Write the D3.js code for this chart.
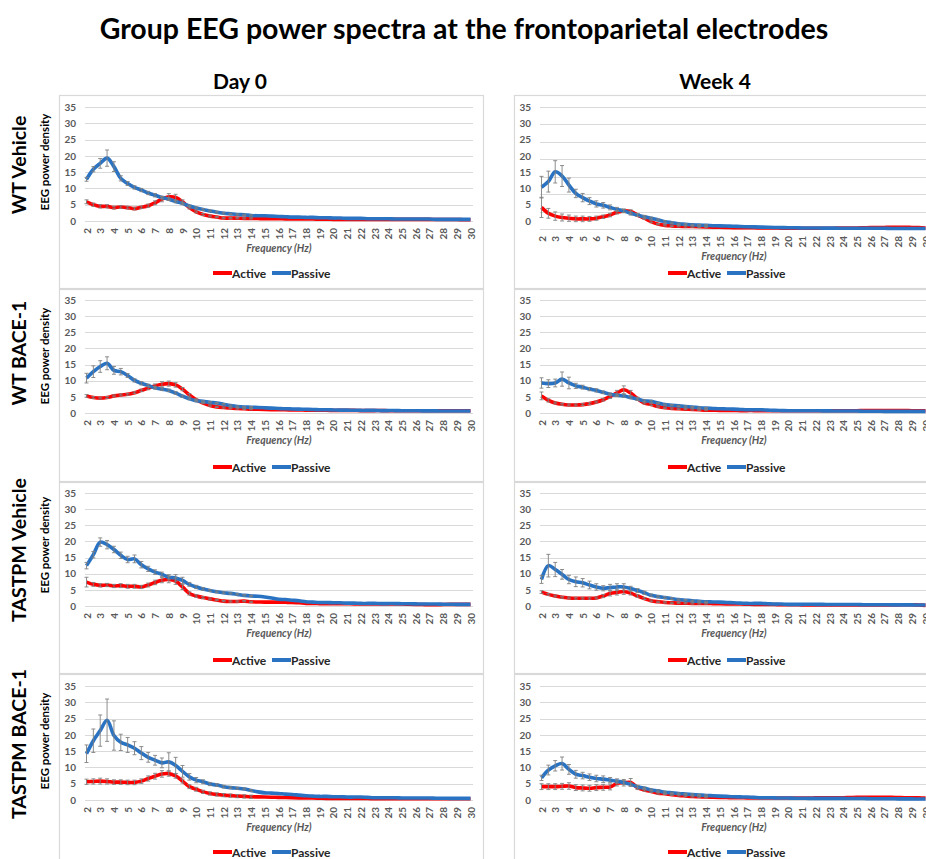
<!DOCTYPE html>
<html><head><meta charset="utf-8">
<script src="https://cdn.jsdelivr.net/npm/d3@7"></script>
<style>body{margin:0;background:#fff}svg{display:block}text{font-family:Lato,"Open Sans",sans-serif}</style>
</head><body><svg id="c" width="926" height="859"></svg>
<script>
// ---------- data ----------
const freqs = [2,2.5,3,3.5,4,4.5,5,5.5,6,6.5,7,7.5,8,8.5,9,9.5,10,10.5,11,11.5,12,12.5,13,13.5,14,14.5,15,15.5,16,16.5,17,17.5,18,18.5,19,19.5,20,20.5,21,21.5,22,22.5,23,23.5,24,24.5,25,25.5,26,26.5,27,27.5,28,28.5,29,29.5,30];
const xTickLabels = [2,3,4,5,6,7,8,9,10,11,12,13,14,15,16,17,18,19,20,21,22,23,24,25,26,27,28,29,30];
const yTickLabels = [0,5,10,15,20,25,30,35];
const title = "Group EEG power spectra at the frontoparietal electrodes";
const columnLabels = ["Day 0","Week 4"];
const rowLabels = ["WT Vehicle","WT BACE-1","TASTPM Vehicle","TASTPM BACE-1"];
const seriesNames = ["Active","Passive"];

// Day 0, WT Vehicle
const d0WTVehActive = [5.9,5.0,4.5,4.5,4.1,4.3,4.1,3.8,4.2,4.7,5.6,6.7,7.4,7.2,5.9,4.1,2.8,2.0,1.5,1.2,0.9,0.9,0.85,0.8,0.8,
  0.75,0.7,0.7,0.7,0.65,0.65,0.6,0.6,0.6,0.55,0.55,0.5,0.5,0.5,0.5,0.5,0.5,0.5,0.5,0.5,0.5,0.5,0.5,0.5,0.5,0.5,0.45,0.45,0.45,0.45,0.4,0.4];
const d0WTVehPassive = [12.8,15.9,17.7,19.3,16.7,13.1,11.5,10.3,9.5,8.6,7.9,7.2,6.7,6.0,5.4,4.6,4.0,3.5,3.1,2.7,2.4,2.2,2.0,1.9,1.7,
  1.6,1.6,1.5,1.4,1.3,1.2,1.2,1.1,1.1,1.0,1.0,0.9,0.9,0.8,0.8,0.8,0.7,0.7,0.7,0.7,0.6,0.6,0.6,0.6,0.6,0.6,0.5,0.5,0.5,0.5,0.5,0.5];
const d0WTVehActiveErr = [0.6,0.5,0.5,0.5,0.4,0.4,0.4,0.4,0.4,0.5,0.6,0.8,1.0,1.0,0.6,0.4,0.3,0.3,0.3,0.2,0.2,0.2,0.2,0.2,0.2];
const d0WTVehPassiveErr = [0.6,0.8,1.5,2.5,1.5,0.8,0.6,0.5,0.5,0.5,0.5,0.4,0.4,0.4,0.4,0.3,0.3,0.3,0.3,0.3,0.3,0.2,0.2,0.2,0.2];

// Week 4, WT Vehicle
const w4WTVehActive = [6.2,4.5,3.7,3.3,3.1,2.9,2.9,2.9,3.1,3.5,4.0,4.8,5.2,5.0,4.0,3.1,2.1,1.4,1.05,0.9,0.8,0.75,0.7,0.65,0.6,
  0.55,0.5,0.45,0.4,0.4,0.35,0.35,0.3,0.3,0.3,0.25,0.25,0.25,0.2,0.2,0.2,0.2,0.2,0.25,0.25,0.3,0.3,0.35,0.4,0.4,0.45,0.5,0.5,0.5,0.45,0.4,0.3];
const w4WTVehPassive = [12.0,13.6,16.4,15.2,12.6,10.2,9.0,8.0,7.2,6.8,6.2,5.6,5.2,4.5,4.0,3.5,3.1,2.6,2.1,1.8,1.5,1.35,1.2,1.1,1.05,
  0.95,0.9,0.85,0.8,0.7,0.65,0.6,0.55,0.5,0.45,0.4,0.35,0.35,0.3,0.3,0.3,0.25,0.25,0.25,0.2,0.2,0.2,0.2,0.2,0.2,0.2,0.15,0.15,0.15,0.15,0.15,0.15];
const w4WTVehActiveErr = [2.9,1.4,1.2,1.0,0.9,0.8,0.8,0.7,0.6,0.5,0.5,0.5,0.5,0.5,0.4,0.3,0.3,0.2,0.2,0.2,0.2,0.2,0.2,0.2,0.2];
const w4WTVehPassiveErr = [3.1,3.0,3.2,3.0,2.0,1.2,1.2,1.0,0.9,0.8,0.7,0.6,0.5,0.5,0.4,0.4,0.3,0.3,0.3,0.2,0.2,0.2,0.2,0.2,0.2];

// Day 0, WT BACE-1
const d0WTBaceActive = [5.3,4.8,4.6,4.8,5.3,5.6,5.8,6.3,7.0,7.7,8.4,8.9,9.1,8.7,7.4,5.6,4.1,3.1,2.3,1.9,1.7,1.55,1.4,1.3,1.2,
  1.15,1.1,1.05,1.0,1.0,0.95,0.95,0.9,0.9,0.85,0.85,0.8,0.8,0.8,0.8,0.75,0.75,0.75,0.75,0.7,0.7,0.7,0.7,0.7,0.7,0.7,0.7,0.7,0.7,0.7,0.7,0.7];
const d0WTBacePassive = [10.8,12.8,14.4,15.4,13.2,12.8,11.6,10.1,9.2,8.5,7.8,7.4,7.0,6.2,5.2,4.4,3.8,3.6,3.3,3.1,2.7,2.3,2.0,1.85,1.8,
  1.7,1.6,1.5,1.4,1.3,1.25,1.2,1.15,1.1,1.0,1.0,0.95,0.9,0.9,0.85,0.8,0.8,0.8,0.75,0.75,0.75,0.7,0.7,0.7,0.65,0.65,0.65,0.6,0.6,0.6,0.6,0.6];
const d0WTBaceActiveErr = [0.4,0.3,0.3,0.3,0.3,0.3,0.3,0.3,0.4,0.5,0.6,0.8,0.8,0.7,0.5,0.4,0.3,0.2,0.2,0.2,0.2,0.2,0.2,0.2,0.2];
const d0WTBacePassiveErr = [1.5,1.8,1.8,2.0,1.2,1.0,0.6,0.5,0.5,0.4,0.4,0.4,0.4,0.4,0.3,0.3,0.3,0.2,0.2,0.2,0.2,0.2,0.2,0.2,0.2];

// Week 4, WT BACE-1
const w4WTBaceActive = [5.3,3.9,3.1,2.7,2.5,2.5,2.6,2.9,3.4,4.1,5.1,6.2,7.2,6.2,4.4,3.1,2.6,2.0,1.6,1.4,1.3,1.2,1.1,1.0,0.9,
  0.85,0.8,0.8,0.8,0.75,0.75,0.75,0.7,0.7,0.7,0.7,0.7,0.7,0.7,0.7,0.7,0.7,0.7,0.7,0.7,0.7,0.7,0.75,0.75,0.75,0.75,0.75,0.75,0.75,0.7,0.7,0.7];
const w4WTBacePassive = [9.3,9.1,9.3,10.5,9.3,8.4,8.0,7.4,7.0,6.4,5.8,5.5,5.3,4.8,4.3,3.8,3.6,3.1,2.6,2.4,2.2,2.0,1.85,1.65,1.5,
  1.4,1.3,1.25,1.2,1.1,1.0,1.0,1.0,0.9,0.8,0.75,0.7,0.7,0.7,0.7,0.7,0.65,0.65,0.6,0.6,0.6,0.6,0.55,0.55,0.55,0.5,0.5,0.5,0.5,0.5,0.5,0.5];
const w4WTBaceActiveErr = [1.2,0.5,0.3,0.3,0.3,0.3,0.3,0.3,0.3,0.4,0.6,0.8,1.2,0.8,0.5,0.3,0.3,0.2,0.2,0.2,0.2,0.2,0.2,0.2,0.2];
const w4WTBacePassiveErr = [1.6,1.2,1.2,2.2,1.8,0.8,0.6,0.5,0.5,0.4,0.4,0.4,0.4,0.4,0.3,0.3,0.3,0.2,0.2,0.2,0.2,0.2,0.2,0.2,0.2];

// Day 0, TASTPM Vehicle
const d0TgVehActive = [7.4,6.7,6.4,6.5,6.2,6.3,6.1,6.1,5.9,6.5,7.3,8.0,8.2,7.7,5.9,3.9,3.1,2.6,2.2,1.85,1.5,1.4,1.4,1.5,1.3,
  1.25,1.2,1.2,1.2,1.15,1.1,1.0,0.8,0.8,0.75,0.7,0.7,0.7,0.7,0.65,0.65,0.6,0.6,0.6,0.6,0.6,0.6,0.55,0.5,0.45,0.4,0.4,0.45,0.5,0.5,0.5,0.5];
const d0TgVehPassive = [12.5,15.9,19.8,19.0,17.5,15.7,14.4,14.6,12.8,11.5,10.5,9.8,8.9,8.7,7.9,6.7,5.9,5.3,4.8,4.4,4.1,3.9,3.6,3.3,3.1,
  3.0,2.8,2.5,2.1,2.0,1.8,1.6,1.3,1.2,1.1,1.1,1.0,1.0,0.9,0.9,0.8,0.8,0.8,0.75,0.75,0.75,0.7,0.7,0.65,0.6,0.6,0.6,0.55,0.55,0.5,0.5,0.5];
const d0TgVehActiveErr = [1.5,0.6,0.5,0.5,0.5,0.6,0.6,0.6,0.5,0.6,0.7,0.8,1.0,1.0,0.8,0.5,0.4,0.3,0.3,0.2,0.2,0.2,0.2,0.2,0.2];
const d0TgVehPassiveErr = [1.0,1.0,1.3,1.3,1.0,1.0,1.0,1.2,1.0,0.8,0.7,0.7,0.8,1.0,1.0,0.6,0.5,0.4,0.3,0.3,0.3,0.2,0.2,0.2,0.2];

// Week 4, TASTPM Vehicle
const w4TgVehActive = [4.3,3.6,3.1,2.7,2.5,2.4,2.4,2.4,2.5,3.1,3.9,4.2,4.5,4.0,3.1,2.3,1.6,1.3,1.1,1.0,0.9,0.85,0.8,0.8,0.8,
  0.75,0.7,0.65,0.6,0.6,0.55,0.5,0.5,0.5,0.45,0.4,0.4,0.4,0.35,0.35,0.35,0.3,0.3,0.3,0.3,0.3,0.3,0.3,0.3,0.3,0.3,0.35,0.35,0.4,0.4,0.3,0.2];
const w4TgVehPassive = [8.2,12.5,11.3,9.8,8.2,7.5,7.2,6.5,5.9,5.5,5.7,5.9,5.9,5.4,4.8,4.1,3.3,2.9,2.6,2.3,2.0,1.8,1.6,1.45,1.3,
  1.25,1.2,1.1,1.0,0.9,0.8,0.8,0.8,0.7,0.6,0.6,0.5,0.5,0.5,0.55,0.5,0.5,0.45,0.45,0.45,0.45,0.45,0.4,0.4,0.4,0.4,0.35,0.35,0.35,0.35,0.3,0.3];
const w4TgVehActiveErr = [0.4,0.3,0.3,0.3,0.3,0.3,0.3,0.3,0.3,0.5,0.8,0.8,0.9,0.6,0.4,0.3,0.3,0.2,0.2,0.2,0.2,0.2,0.2,0.2,0.2];
const w4TgVehPassiveErr = [1.2,3.5,2.2,1.5,1.3,1.5,1.3,1.2,1.0,0.8,1.0,1.0,1.0,0.7,0.6,0.5,0.4,0.3,0.3,0.3,0.2,0.2,0.2,0.2,0.2];

// Day 0, TASTPM BACE-1
const d0TgBaceActive = [5.6,5.7,5.8,5.7,5.5,5.5,5.4,5.4,5.8,6.6,7.3,8.0,8.1,7.4,5.8,4.1,3.3,2.5,2.0,1.7,1.5,1.35,1.2,1.1,1.0,
  0.95,0.9,0.85,0.8,0.75,0.7,0.65,0.6,0.6,0.55,0.5,0.5,0.5,0.45,0.45,0.45,0.45,0.4,0.4,0.4,0.4,0.4,0.4,0.4,0.4,0.4,0.4,0.4,0.4,0.4,0.4,0.4];
const d0TgBacePassive = [14.2,18.2,21.3,24.5,19.8,17.7,16.9,15.9,14.4,13.1,12.2,11.4,11.7,10.6,8.8,7.1,6.1,5.6,4.9,4.6,4.1,3.8,3.6,3.4,2.9,
  2.5,2.2,2.1,2.0,1.8,1.7,1.5,1.3,1.2,1.1,1.1,1.0,1.0,0.9,0.9,0.9,0.8,0.7,0.7,0.7,0.7,0.6,0.6,0.6,0.6,0.6,0.55,0.55,0.5,0.5,0.5,0.5];
const d0TgBaceActiveErr = [0.8,0.8,0.9,0.8,0.7,0.7,0.7,0.7,0.7,0.8,0.9,1.0,0.8,0.7,0.6,0.6,0.6,0.5,0.5,0.5,0.5,0.5,0.5,0.5,0.5];
const d0TgBacePassiveErr = [2.7,3.6,4.8,6.5,4.5,2.5,2.3,2.0,2.0,1.5,1.5,1.5,2.8,2.5,1.8,1.0,0.8,0.6,0.5,0.4,0.4,0.3,0.3,0.3,0.3];

// Week 4, TASTPM BACE-1
const w4TgBaceActive = [4.1,4.1,4.1,4.2,4.3,3.8,3.7,3.6,3.8,3.9,4.0,5.1,5.3,5.4,3.8,3.1,2.6,2.1,1.9,1.6,1.4,1.25,1.1,1.0,0.9,
  0.85,0.8,0.75,0.7,0.7,0.65,0.65,0.6,0.6,0.6,0.6,0.6,0.6,0.6,0.6,0.65,0.65,0.7,0.7,0.7,0.75,0.8,0.8,0.8,0.8,0.8,0.8,0.75,0.7,0.7,0.65,0.6];
const w4TgBacePassive = [6.8,9.2,10.5,11.2,9.4,7.9,7.5,7.0,6.6,6.4,6.1,5.8,5.4,4.8,4.1,3.6,3.1,2.8,2.4,2.2,2.0,1.85,1.7,1.55,1.4,
  1.3,1.2,1.1,1.0,0.95,0.9,0.8,0.7,0.7,0.65,0.6,0.6,0.55,0.55,0.5,0.5,0.5,0.5,0.5,0.5,0.45,0.45,0.45,0.4,0.4,0.4,0.4,0.35,0.35,0.35,0.3,0.3];
const w4TgBaceActiveErr = [0.9,0.9,0.9,0.9,1.0,0.9,0.9,0.9,0.9,0.9,0.9,0.8,1.0,1.2,0.6,0.4,0.3,0.3,0.2,0.2,0.2,0.2,0.2,0.2,0.2];
const w4TgBacePassiveErr = [0.8,1.5,1.6,2.0,1.5,1.2,1.0,1.0,1.0,1.0,0.8,0.7,0.6,0.5,0.4,0.4,0.3,0.3,0.3,0.2,0.2,0.2,0.2,0.2,0.2];

const panelData = [
  [[d0WTVehActive,d0WTVehActiveErr,d0WTVehPassive,d0WTVehPassiveErr],[w4WTVehActive,w4WTVehActiveErr,w4WTVehPassive,w4WTVehPassiveErr]],
  [[d0WTBaceActive,d0WTBaceActiveErr,d0WTBacePassive,d0WTBacePassiveErr],[w4WTBaceActive,w4WTBaceActiveErr,w4WTBacePassive,w4WTBacePassiveErr]],
  [[d0TgVehActive,d0TgVehActiveErr,d0TgVehPassive,d0TgVehPassiveErr],[w4TgVehActive,w4TgVehActiveErr,w4TgVehPassive,w4TgVehPassiveErr]],
  [[d0TgBaceActive,d0TgBaceActiveErr,d0TgBacePassive,d0TgBacePassiveErr],[w4TgBaceActive,w4TgBaceActiveErr,w4TgBacePassive,w4TgBacePassiveErr]]
];

// ---------- layout ----------
const colors = {Active:"#ff0000", Passive:"#2a73c3"};
const rowTop = [95, 289, 482, 674];
const rowH = [193, 192, 191, 190];
const yTopPx = [107, 300, 493, 686];
const yBotPx = [221, 413, 606, 800];
const colDX = [0, 455];

const svg = d3.select("#c");
svg.append("rect").attr("width",926).attr("height",859).attr("fill","#fff");

svg.append("text").attr("x",464).attr("y",39).attr("text-anchor","middle")
  .attr("font-size",28.5).attr("font-weight",700).attr("fill","#000").text(title);
columnLabels.forEach((t,i)=>{
  svg.append("text").attr("x",[240,715][i]).attr("y",89).attr("text-anchor","middle")
    .attr("font-size",21).attr("font-weight",700).attr("fill","#000").text(t);
});

for (let r=0;r<4;r++){
  for (let c=0;c<2;c++){
    const dx = colDX[c];
    const g = svg.append("g");
    // panel frame
    g.append("rect").attr("x",59.5+dx).attr("y",rowTop[r]+0.5).attr("width",424).attr("height",rowH[r])
      .attr("fill","#fff").attr("stroke","#d9d9d9").attr("stroke-width",1.2);
    const gridBottom = (r===0 && c===1) ? 229 : yBotPx[r];
    const x = d3.scalePoint().domain(freqs).range([86.5+dx, 470.5+dx]);
    const y = d3.scaleLinear().domain([0,35]).range([gridBottom, yTopPx[r]]);
    const yLab = d3.scaleLinear().domain([0,35]).range([yBotPx[r], yTopPx[r]]);
    // gridlines
    g.selectAll(".grid").data(yTickLabels).join("line")
      .attr("x1",85+dx).attr("x2",473+dx)
      .attr("y1",d=>Math.round(y(d))+0.5).attr("y2",d=>Math.round(y(d))+0.5)
      .attr("stroke","#d9d9d9").attr("stroke-width",1);
    // y axis labels
    const ya = g.append("g").attr("transform",`translate(${78+dx},0)`)
      .call(d3.axisLeft(yLab).tickValues(yTickLabels).tickSize(0).tickPadding(2));
    ya.select(".domain").remove();
    ya.selectAll("text").attr("font-size",10).attr("font-weight",700).attr("fill","#595959")
      .style("font-family","Lato,'Open Sans',sans-serif");
    // x axis labels
    const xa = g.append("g").attr("transform",`translate(0,${gridBottom+7})`)
      .call(d3.axisBottom(x).tickValues(xTickLabels).tickSize(0));
    xa.select(".domain").remove();
    xa.selectAll("text").attr("transform","rotate(-90)").attr("text-anchor","end")
      .attr("x",0).attr("y",0).attr("dx",0).attr("dy","0.35em")
      .attr("font-size",10).attr("font-weight",700).attr("fill","#595959")
      .style("font-family","Lato,'Open Sans',sans-serif");
    // axis title
    g.append("text").attr("x",279+dx).attr("y",gridBottom+31).attr("text-anchor","middle")
      .attr("font-size",10.5).attr("font-weight",700).attr("font-style","italic").attr("fill","#595959")
      .text("Frequency (Hz)");
    // series
    const [act, actErr, pas, pasErr] = panelData[r][c];
    const series = [["Active",act,actErr],["Passive",pas,pasErr]];
    const line = d3.line().x((d,i)=>x(freqs[i])).y(d=>y(d)).curve(d3.curveCatmullRom.alpha(0.5));
    series.forEach(([name,vals])=>{
      g.append("path").attr("d",line(vals)).attr("fill","none")
        .attr("stroke",colors[name]).attr("stroke-width",3.6).attr("stroke-linejoin","round");
    });
    series.forEach(([name,vals,errs])=>{
      const eg = g.append("g").attr("stroke","#808080").attr("stroke-width",0.9);
      errs.forEach((e,i)=>{
        const cx = x(freqs[i]), v = vals[i];
        const y1 = y(v+e), y2 = y(Math.max(0,v-e));
        eg.append("line").attr("x1",cx).attr("x2",cx).attr("y1",y1).attr("y2",y2);
        eg.append("line").attr("x1",cx-2).attr("x2",cx+2).attr("y1",y1).attr("y2",y1);
        eg.append("line").attr("x1",cx-2).attr("x2",cx+2).attr("y1",y2).attr("y2",y2);
      });
    });
    // legend
    const ly = rowTop[r]+178;
    const lx = [213+dx, 272+dx];
    seriesNames.forEach((n,k)=>{
      g.append("line").attr("x1",lx[k]).attr("x2",lx[k]+19).attr("y1",ly).attr("y2",ly)
        .attr("stroke",colors[n]).attr("stroke-width",4);
      g.append("text").attr("x",lx[k]+19).attr("y",ly+4.5).attr("font-size",12).attr("font-weight",700)
        .attr("fill","#262626").text(n);
    });
    if (c===0){
      const cy = [165,353,550,744][r];
      const ec = [162,356,545,741][r];
      g.append("text").attr("transform",`translate(26,${cy}) rotate(-90)`).attr("text-anchor","middle")
        .attr("font-size",19.5).attr("font-weight",700).attr("fill","#000").text(rowLabels[r]);
      g.append("text").attr("transform",`translate(49,${ec}) rotate(-90)`).attr("text-anchor","middle")
        .attr("font-size",11.5).attr("font-weight",700).attr("fill","#000").text("EEG power density");
    }
  }
}
</script></body></html>
